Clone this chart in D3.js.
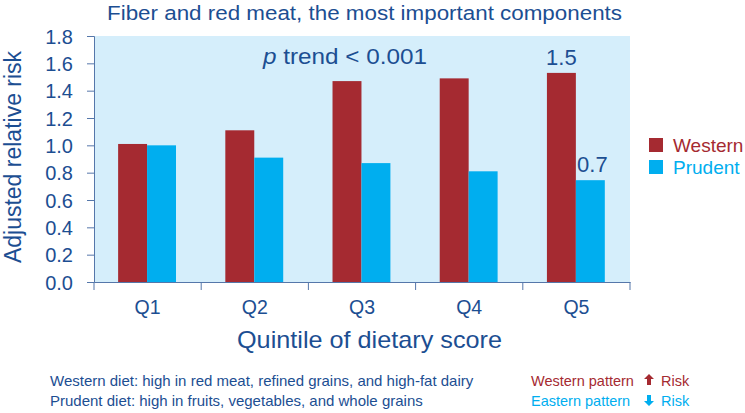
<!DOCTYPE html>
<html>
<head>
<meta charset="utf-8">
<script src="https://cdn.jsdelivr.net/npm/d3@7"></script>
<style>
body { margin: 0; background: #fff; }
text { font-family: "Liberation Sans", Arial, sans-serif; }
</style>
</head>
<body>
<svg id="chart" width="745" height="413"></svg>
<script>
var quintiles = ["Q1", "Q2", "Q3", "Q4", "Q5"];
var series = ["Western", "Prudent"];
var western = [1.01, 1.11, 1.47, 1.49, 1.53];
var prudent = [1.00, 0.91, 0.87, 0.81, 0.745];
var yTicks = [0, 0.2, 0.4, 0.6, 0.8, 1.0, 1.2, 1.4, 1.6, 1.8];

var blue = "#1c4e92";
var red = "#a52a31";
var cyan = "#00aeef";
var axisColor = "#5577aa";

var svg = d3.select("#chart");

var x = d3.scaleBand().domain(quintiles).range([94, 630]);
var xs = d3.scaleBand().domain(series)
	.range([x.bandwidth() * 0.225, x.bandwidth() * 0.765]);
var y = d3.scaleLinear().domain([0, 1.8]).range([282, 36]);
var colour = d3.scaleOrdinal().domain(series).range([red, cyan]);

// plot background
svg.append("rect")
	.attr("x", x.range()[0])
	.attr("y", y(1.8))
	.attr("width", x.range()[1] - x.range()[0])
	.attr("height", y(0) - y(1.8))
	.style("fill", "#d5eefb");

var rows = quintiles.map(function(q, i) {
	return { q: q, values: [
		{ s: "Western", v: western[i] },
		{ s: "Prudent", v: prudent[i] }
	]};
});

var groups = svg.selectAll("g.q").data(rows).enter()
	.append("g").attr("class", "q")
	.attr("transform", function(d) {
		return "translate(" + x(d.q) + ",0)";
	});

groups.selectAll("rect").data(function(d) { return d.values; }).enter()
	.append("rect")
	.attr("x", function(d) { return xs(d.s); })
	.attr("y", function(d) { return y(d.v); })
	.attr("width", xs.bandwidth())
	.attr("height", function(d) { return y(0) - y(d.v); })
	.style("fill", function(d) { return colour(d.s); });

// y axis
var yAxis = svg.append("g")
	.attr("transform", "translate(94,0)")
	.call(d3.axisLeft(y).tickValues(yTicks).tickFormat(d3.format(".1f"))
		.tickSizeOuter(0).tickSize(7).tickPadding(14));
yAxis.select(".domain").style("stroke", axisColor);
yAxis.selectAll(".tick line").style("stroke", axisColor);
yAxis.selectAll(".tick text")
	.style("font-size", "20px")
	.style("fill", blue)
	.attr("dy", "0.35em");

// x axis with ticks at band edges
var xAxis = svg.append("g")
	.attr("transform", "translate(0,282)")
	.call(d3.axisBottom(x).tickSize(0).tickPadding(18));
xAxis.select(".domain").style("stroke", axisColor);
xAxis.selectAll(".tick text")
	.style("font-size", "19.5px")
	.style("fill", blue);

var edges = quintiles.map(function(q) { return x(q); }).concat([x.range()[1]]);
xAxis.selectAll("line.edge").data(edges).enter()
	.append("line").attr("class", "edge")
	.attr("x1", function(d) { return d; })
	.attr("x2", function(d) { return d; })
	.attr("y1", 0).attr("y2", 8)
	.style("stroke", axisColor);

// titles
svg.append("text")
	.attr("x", 107).attr("y", 20)
	.attr("textLength", 515)
	.attr("lengthAdjust", "spacingAndGlyphs")
	.style("font-size", "20.5px")
	.style("fill", blue)
	.text("Fiber and red meat, the most important components");

svg.append("text")
	.attr("transform", "translate(21,157) rotate(-90)")
	.attr("text-anchor", "middle")
	.style("font-size", "23px")
	.style("fill", blue)
	.text("Adjusted relative risk");

svg.append("text")
	.attr("x", 237).attr("y", 348)
	.attr("textLength", 265)
	.attr("lengthAdjust", "spacingAndGlyphs")
	.style("font-size", "24px")
	.style("fill", blue)
	.text("Quintile of dietary score");

var pt = svg.append("text")
	.attr("x", 263).attr("y", 64)
	.attr("textLength", 164)
	.attr("lengthAdjust", "spacingAndGlyphs")
	.style("font-size", "21.5px")
	.style("fill", blue);
pt.append("tspan").style("font-style", "italic").text("p");
pt.append("tspan").text(" trend < 0.001");

// value labels on Q5
svg.append("text")
	.attr("x", x("Q5") + xs("Western") + xs.bandwidth() / 2)
	.attr("y", y(western[4]) - 8)
	.attr("text-anchor", "middle")
	.style("font-size", "22px")
	.style("fill", blue)
	.text("1.5");

svg.append("text")
	.attr("x", x("Q5") + xs("Prudent") + xs.bandwidth() / 2 + 2)
	.attr("y", y(prudent[4]) - 8)
	.attr("text-anchor", "middle")
	.style("font-size", "22px")
	.style("fill", blue)
	.text("0.7");

// legend
var legend = svg.selectAll("g.legend").data(series).enter()
	.append("g").attr("class", "legend")
	.attr("transform", function(d, i) {
		return "translate(649," + (138 + i * 22) + ")";
	});
legend.append("rect")
	.attr("width", 14).attr("height", 14)
	.style("fill", function(d) { return colour(d); });
legend.append("text")
	.attr("x", 24).attr("y", 14)
	.style("font-size", "19px")
	.style("fill", function(d) { return colour(d); })
	.text(function(d) { return d; });

// footnotes
svg.append("text")
	.attr("x", 50).attr("y", 386)
	.style("font-size", "15px")
	.style("fill", blue)
	.text("Western diet: high in red meat, refined grains, and high-fat dairy");
svg.append("text")
	.attr("x", 50).attr("y", 406)
	.style("font-size", "15px")
	.style("fill", blue)
	.text("Prudent diet: high in fruits, vegetables, and whole grains");

var notes = [
	{ label: "Western pattern", up: true, c: red, yy: 386 },
	{ label: "Eastern pattern", up: false, c: cyan, yy: 406 }
];
var note = svg.selectAll("g.note").data(notes).enter()
	.append("g").attr("class", "note");
note.append("text")
	.attr("x", 531).attr("y", function(d) { return d.yy; })
	.style("font-size", "14.5px")
	.style("fill", function(d) { return d.c; })
	.text(function(d) { return d.label; });
note.append("path")
	.attr("transform", function(d) {
		return "translate(649," + (d.yy - 6) + ")" + (d.up ? "" : " rotate(180)");
	})
	.attr("d", "M0,-6 L5,-1 L2,-1 L2,5 L-2,5 L-2,-1 L-5,-1 Z")
	.style("fill", function(d) { return d.c; });
note.append("text")
	.attr("x", 661).attr("y", function(d) { return d.yy; })
	.style("font-size", "14.5px")
	.style("fill", function(d) { return d.c; })
	.text("Risk");
</script>
</body>
</html>
